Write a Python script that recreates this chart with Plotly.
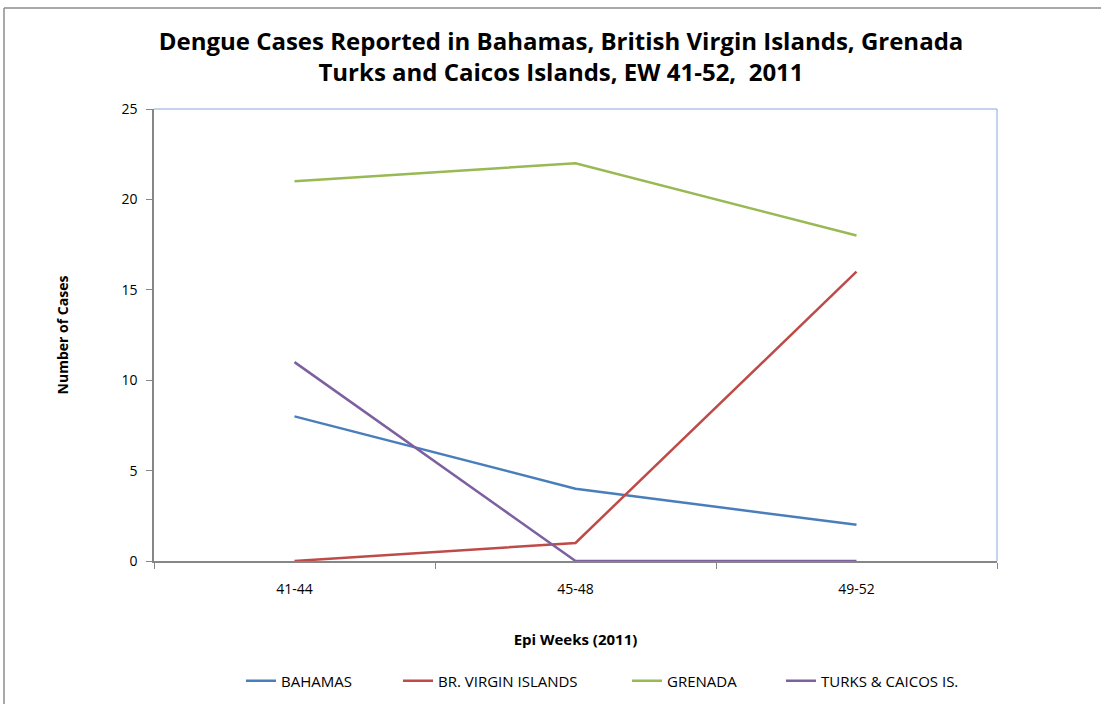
import plotly.graph_objects as go

categories = ["41-44", "45-48", "49-52"]
bahamas = [8, 4, 2]
bvi = [0, 1, 16]
grenada = [21, 22, 18]
turks = [11, 0, 0]
series_names = ["BAHAMAS", "BR. VIRGIN ISLANDS", "GRENADA", "TURKS & CAICOS IS."]
series_colors = ["#4A7EBB", "#BE4B48", "#98B954", "#7D60A0"]
legend_widths = [112, 184, 109, 150]
y_ticks = [0, 5, 10, 15, 20, 25]

FONT = "Open Sans"

fig = go.Figure()
for name, vals, col, lw in zip(series_names, [bahamas, bvi, grenada, turks], series_colors, legend_widths):
    fig.add_trace(go.Scatter(
        x=categories, y=vals, name=name, mode="lines",
        line=dict(color=col, width=2.5), cliponaxis=False, legendwidth=lw,
    ))

W, H = 1101, 704
L, R, T, B = 154, 104, 109, 143
pw, ph = W - L - R, H - T - B

def px(x):
    return (x - L) / pw

def py(y):
    return (H - B - y) / ph

fig.update_layout(
    width=W, height=H,
    margin=dict(l=L, r=R, t=T, b=B, autoexpand=False),
    paper_bgcolor="white", plot_bgcolor="white",
    font=dict(family=FONT, color="black", size=12),
    title=dict(
        text="<b>Dengue Cases Reported in Bahamas, British Virgin Islands, Grenada<br>Turks and Caicos Islands, EW 41-52,  2011</b>",
        x=561 / W, xanchor="center", y=1 - 50 / H, yanchor="middle",
        font=dict(family=FONT, size=24, color="black"),
    ),
    xaxis=dict(
        type="category", range=[-0.5, 2.5], tickson="boundaries",
        ticks="outside", ticklen=6, tickcolor="#868686",
        showline=True, linecolor="#868686", linewidth=1.5,
        showgrid=False, zeroline=False, ticklabelstandoff=14,
        tickfont=dict(size=14, family=FONT),
        title=dict(text="<b>Epi Weeks (2011)</b>", font=dict(size=15, family=FONT), standoff=38),
    ),
    yaxis=dict(
        range=[0, 25], tickvals=y_ticks, ticks="outside", ticklen=6, tickcolor="#868686",
        showline=True, linecolor="#868686", linewidth=1.5,
        showgrid=False, zeroline=False, ticklabelstandoff=6,
        tickfont=dict(size=14, family=FONT),
        title=dict(text="<b>Number of Cases</b>", font=dict(size=14, family=FONT), standoff=50),
    ),
    legend=dict(
        orientation="h", x=px(241), xanchor="left",
        y=py(681), yanchor="middle",
        font=dict(size=15, family=FONT), itemwidth=30,
        bgcolor="rgba(0,0,0,0)",
    ),
    showlegend=True,
    shapes=[
        dict(type="line", xref="paper", yref="paper", x0=0, x1=1, y0=1, y1=1,
             line=dict(color="#86A8D8", width=1)),
        dict(type="line", xref="paper", yref="paper", x0=1, x1=1, y0=0, y1=1,
             line=dict(color="#86A8D8", width=1)),
        dict(type="line", xref="paper", yref="paper", x0=px(4), x1=px(1101), y0=py(8), y1=py(8),
             line=dict(color="#8C8C8C", width=1.5)),
        dict(type="line", xref="paper", yref="paper", x0=px(4), x1=px(4), y0=py(8), y1=py(704),
             line=dict(color="#8C8C8C", width=1.5)),
    ],
)

fig.write_html("out.html")
